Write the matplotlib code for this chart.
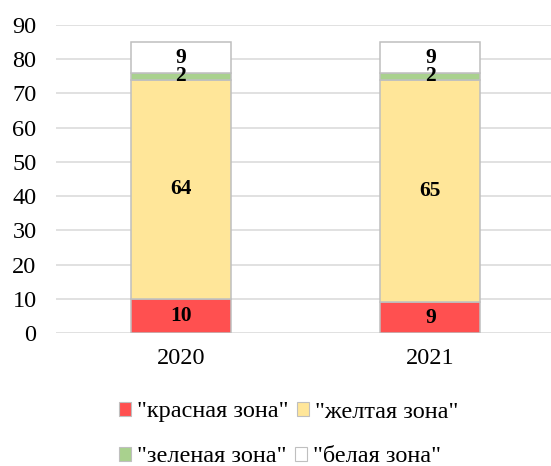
import matplotlib.pyplot as plt
from matplotlib.patches import Patch

years = ["2020", "2021"]
red_zone = [10, 9]
yellow_zone = [64, 65]
green_zone = [2, 2]
white_zone = [9, 9]

zone_names = ['"красная зона"', '"желтая зона"', '"зеленая зона"', '"белая зона"']
zone_colors = ["#FF5050", "#FFE699", "#A9D18E", "#FFFFFF"]
edge = "#BFBFBF"

plt.rcParams["font.family"] = ["Liberation Serif", "DejaVu Serif"]

fig = plt.figure(figsize=(5.51, 4.66), dpi=100)
ax = fig.add_axes([56 / 551, 133 / 466, 499 / 551, 308 / 466])

x = range(len(years))
bottom = [0, 0]
series = [red_zone, yellow_zone, green_zone, white_zone]
for vals, col in zip(series, zone_colors):
    bars = ax.bar(x, vals, width=0.4, bottom=bottom, color=col,
                  edgecolor=edge, linewidth=1.1, zorder=3)
    for b, v, b0 in zip(bars, vals, bottom):
        ax.text(b.get_x() + b.get_width() / 2, b0 + v / 2, str(v),
                ha="center", va="center", fontsize=15.5, fontweight="bold", zorder=4)
    bottom = [b0 + v for b0, v in zip(bottom, vals)]

ax.set_xlim(-0.5, 1.5)
ax.set_ylim(0, 90)
ax.set_yticks(range(0, 91, 10))
ax.set_xticks(list(x))
ax.set_xticklabels(years)
ax.tick_params(axis="both", length=0, labelsize=17.5)
ax.tick_params(axis="y", pad=14)
ax.tick_params(axis="x", pad=11)
ax.yaxis.grid(True, color="#D9D9D9", linewidth=1.1, zorder=0)
for s in ax.spines.values():
    s.set_visible(False)

# legend in two rows, each row its own legend
handles = [Patch(facecolor=c, edgecolor=edge, linewidth=0.8) for c in zone_colors]
rows = [(0, 1), (2, 3)]
ys = [412 / 466, 457 / 466]
for (i, j), yy in zip(rows, ys):
    leg = fig.legend([handles[i], handles[j]], [zone_names[i], zone_names[j]],
                     loc="center left", bbox_to_anchor=(119 / 551, 1 - yy),
                     ncol=2, frameon=False, fontsize=17.5, handlelength=0.5,
                     handleheight=0.5, handletextpad=0.25, columnspacing=0.35,
                     borderpad=0, borderaxespad=0)

fig.savefig("out.png", dpi=100)
